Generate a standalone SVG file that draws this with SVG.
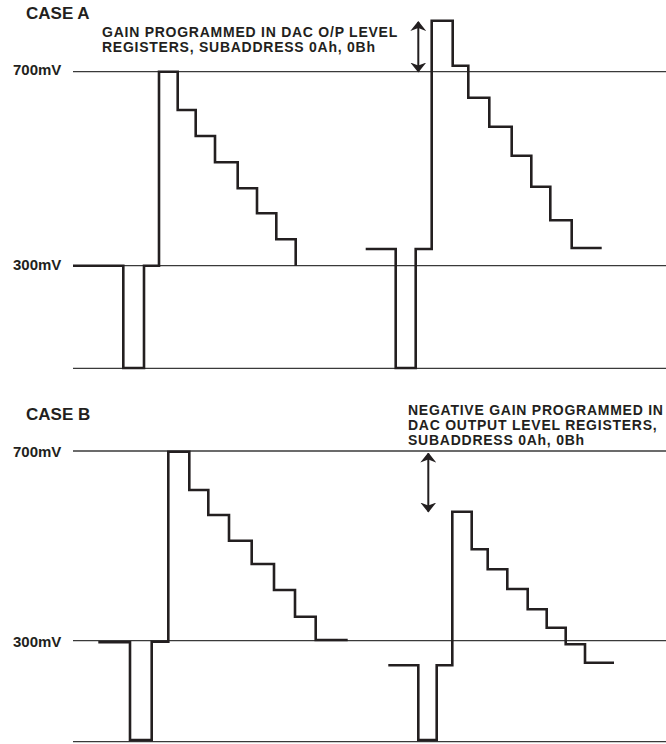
<svg xmlns="http://www.w3.org/2000/svg" width="666" height="744" viewBox="0 0 666 744">
<defs>
<style>
.t{font-family:"Liberation Sans",Arial,sans-serif;font-weight:bold;fill:#231f20}
.lbl{font-size:15px}
.case{font-size:17px}
.note{font-size:14px;letter-spacing:0.75px}
.ref{stroke:#3a3a3a;stroke-width:1.3;fill:none}
.wave{stroke:#231f20;stroke-width:2.6;fill:none;stroke-linejoin:miter}
.arr{stroke:#231f20;stroke-width:2;fill:none}
</style>
<marker id="ah" viewBox="0 0 10 16" refX="9" refY="8" markerWidth="10" markerHeight="16" markerUnits="userSpaceOnUse" orient="auto-start-reverse">
<path d="M0,0 L10,8 L0,16 L3,8 Z" fill="#231f20"/>
</marker>
</defs>
<rect width="666" height="744" fill="#fff"/>

<g id="caseA">
<text class="t case" x="26" y="19">CASE A</text>
<text class="t lbl" x="13" y="75">700mV</text>
<text class="t lbl" x="13" y="270">300mV</text>
<text class="t note" x="102" y="37.2">GAIN PROGRAMMED IN DAC O/P LEVEL</text>
<text class="t note" x="102" y="52.2">REGISTERS, SUBADDRESS 0Ah, 0Bh</text>
<line class="ref" x1="73" y1="71.7" x2="666" y2="71.7"/>
<line class="ref" x1="73" y1="265.7" x2="666" y2="265.7"/>
<line class="ref" x1="73" y1="368.3" x2="666" y2="368.3"/>
</g>

<g id="waveA1">
<path class="wave" d="M73,265.7 H123.3 V368 H144 V265.7 H159 V71.7 H177.7 V110 H195.7 V136 H215 V162.3 H237.7 V188.3 H257 V213.3 H276.3 V239.3 H295.7 V265.7"/>
</g>
<g id="waveA2">
<path class="wave" d="M365.7,249 H395.7 V368 H415.7 V249 H431.7 V20.7 H452.7 V65.7 H468.3 V97.7 H489.3 V126.7 H511.7 V155.7 H531.3 V186.7 H550.3 V220.3 H571.7 V248 H601.7"/>
</g>

<g id="caseB">
<text class="t case" x="26" y="420">CASE B</text>
<text class="t lbl" x="13" y="457">700mV</text>
<text class="t lbl" x="13" y="647">300mV</text>
<text class="t note" x="408" y="415">NEGATIVE GAIN PROGRAMMED IN</text>
<text class="t note" x="408" y="430">DAC OUTPUT LEVEL REGISTERS,</text>
<text class="t note" x="408" y="445">SUBADDRESS 0Ah, 0Bh</text>
<line class="ref" x1="73" y1="451" x2="666" y2="451"/>
<line class="ref" x1="73" y1="640.7" x2="666" y2="640.7"/>
<line class="ref" x1="73" y1="741.7" x2="666" y2="741.7"/>
</g>

<g id="waveB1">
<path class="wave" d="M98.3,642.3 H130 V740 H151.7 V641.7 H168.3 V451.7 H189.3 V490 H208.3 V515 H229 V540.7 H251.7 V564 H274 V590 H295 V616.7 H315.7 V640 H347.7"/>
</g>
<g id="waveB2">
<path class="wave" d="M388.3,665.3 H418.3 V740 H436.7 V665.3 H452.3 V511.7 H471.7 V549.3 H487.7 V569.3 H507.3 V589 H527.7 V609.3 H546.7 V627.7 H565.7 V644.3 H585 V662.7 H614"/>
</g>

<g id="connectors">
<line class="arr" x1="418.3" y1="22" x2="418.3" y2="71.5" marker-start="url(#ah)" marker-end="url(#ah)"/>
<line class="arr" x1="428.3" y1="453.5" x2="428.3" y2="511.5" marker-start="url(#ah)" marker-end="url(#ah)"/>
</g>
</svg>
